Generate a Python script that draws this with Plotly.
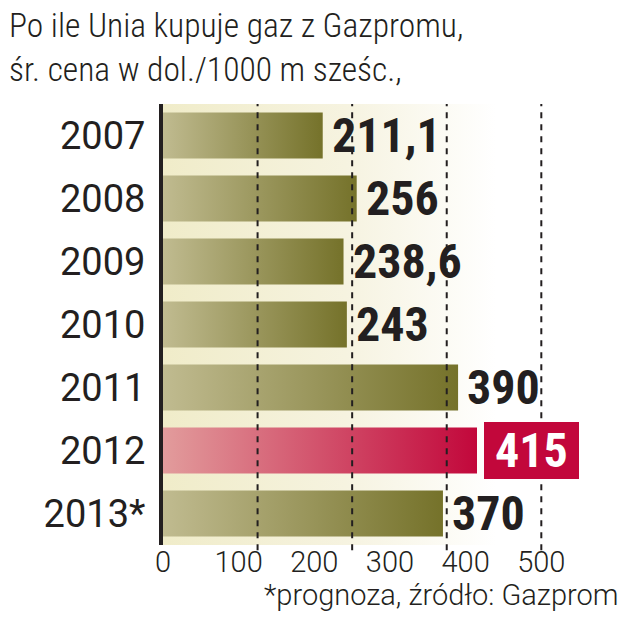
import plotly.graph_objects as go

# ---- data ----
years = ["2007", "2008", "2009", "2010", "2011", "2012", "2013*"]
prices = [211.1, 256, 238.6, 243, 390, 415, 370]
highlight = "2012"
x_ticks = [0, 100, 200, 300, 400, 500]
grid_vals = [125, 250, 375, 500]

title_text = "Po ile Unia kupuje gaz z Gazpromu,<br>śr. cena w dol./1000 m sześc.,"
footer_text = "*prognoza, źródło: Gazprom"

# ---- style ----
OLIVE = [[0, "#c0bb90"], [1, "#75722a"]]
RED = [[0, "#e29c9c"], [1, "#c2073b"]]
CREAM = [[0, "#f0ecc9"], [0.55, "#f6f3e0"], [1, "#ffffff"]]
HALF = 0.365
COND = "Roboto Condensed, DejaVu Sans Condensed, Liberation Sans Narrow, sans-serif"
SANS = "Roboto, Liberation Sans, Arial, sans-serif"

fig = go.Figure()

n = len(years)
# backdrop band
fig.add_trace(go.Scatter(
    x=[0, 440, 440, 0, 0], y=[-0.5, -0.5, n - 0.5, n - 0.5, -0.5],
    mode="lines", line=dict(width=0), fill="toself",
    fillgradient=dict(type="horizontal", colorscale=CREAM),
    hoverinfo="skip", showlegend=False))

for i, (yr, v) in enumerate(zip(years, prices)):
    cs = RED if yr == highlight else OLIVE
    fig.add_trace(go.Scatter(
        x=[0, v, v, 0, 0], y=[i - HALF, i - HALF, i + HALF, i + HALF, i - HALF],
        mode="lines", line=dict(width=0), fill="toself",
        fillgradient=dict(type="horizontal", colorscale=cs),
        hoverinfo="skip", showlegend=False))
    label = f"{v:g}".replace(".", ",")
    if yr == highlight:
        fig.add_annotation(
            x=v, y=i, xref="x", yref="y", xanchor="left", yanchor="middle",
            xshift=7, text="<b>&nbsp;" + label + "&nbsp;</b>", showarrow=False,
            bgcolor="#c2073b", bordercolor="#c2073b", borderwidth=0, borderpad=0,
            font=dict(family=COND, size=48, color="white"))
    else:
        fig.add_annotation(
            x=v, y=i, xref="x", yref="y", xanchor="left", yanchor="middle",
            xshift=7, text="<b>" + label + "</b>", showarrow=False,
            font=dict(family=COND, size=48, color="#231f20"))

for g in grid_vals:
    fig.add_shape(type="line", x0=g, x1=g, y0=-0.012, y1=1, xref="x", yref="paper",
                  line=dict(color="#231f20", width=2, dash="6px,6px"), layer="above")

# title (as annotation, pixel-placed relative to plot area)
fig.add_annotation(
    x=(7 - 163) / 457, y=(545 - 4) / 441, xref="paper", yref="paper",
    xanchor="left", yanchor="top", align="left", text=title_text, showarrow=False,
    font=dict(family=COND, size=33.5, color="#231f20", weight=300))

fig.add_annotation(
    x=1, y=-0.114, xref="paper", yref="paper", xanchor="right", yanchor="middle",
    text=footer_text, showarrow=False,
    font=dict(family=SANS, size=29, color="#231f20", weight=300))

fig.update_layout(
    width=630, height=630,
    margin=dict(l=163, r=10, t=104, b=85, autoexpand=False),
    paper_bgcolor="white", plot_bgcolor="white",
    xaxis=dict(range=[0, 604], tickvals=x_ticks, showgrid=False, zeroline=False,
               showline=False, ticks="", automargin=False, ticklabelstandoff=-3,
               tickfont=dict(family=SANS, size=29, color="#231f20", weight=300),
               fixedrange=True),
    yaxis=dict(range=[n - 0.5, -0.5], tickvals=list(range(n)), ticktext=years,
               showgrid=False, zeroline=False, showline=True, linewidth=4,
               linecolor="#231f20", ticks="", ticklabelstandoff=6, automargin=False,
               tickfont=dict(family=SANS, size=38, color="#231f20"), fixedrange=True),
)

fig.write_html("out.html", config={"displayModeBar": False},
               post_script="document.body.style.margin='0px';")
